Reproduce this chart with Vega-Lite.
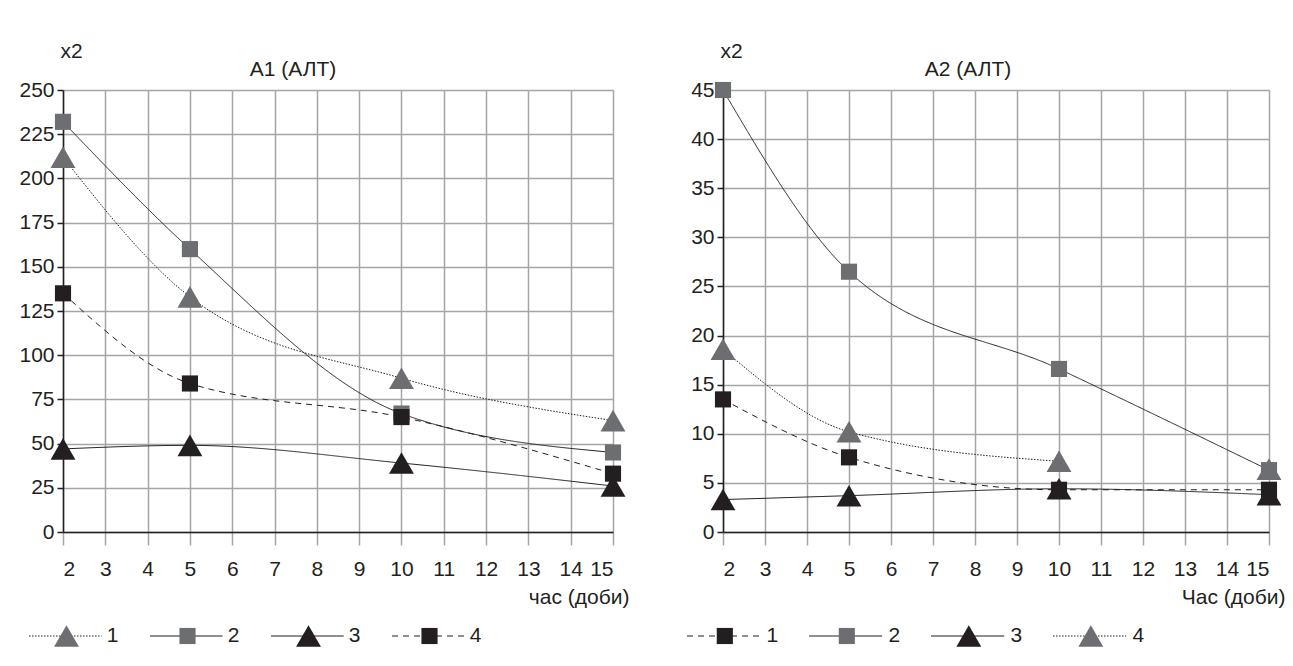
{
  "$schema": "https://vega.github.io/schema/vega-lite/v6.json",
  "padding": {"left": 18, "top": 40, "right": 5, "bottom": 5},
  "background": "white",
  "config": {
    "font": "Liberation Sans, Arial",
    "view": {"stroke": null},
    "axis": {
      "labelFont": "Liberation Sans, Arial",
      "titleFont": "Liberation Sans, Arial",
      "labelFontSize": 21,
      "titleFontSize": 21,
      "titleFontWeight": "normal",
      "labelColor": "#231f20",
      "titleColor": "#231f20",
      "gridColor": "#a3a5a8",
      "gridWidth": 1.5,
      "gridOpacity": 1,
      "domainColor": "#231f20",
      "domainWidth": 1.5,
      "tickColor": "#a3a5a8",
      "tickWidth": 1.5
    },
    "title": {"font": "Liberation Sans, Arial", "fontSize": 21, "fontWeight": "normal", "color": "#231f20"},
    "text": {"font": "Liberation Sans, Arial"}
  },
  "datasets": {
    "a1": [
      {"x": 2, "v": 212, "s": "1"}, {"x": 5, "v": 133, "s": "1"}, {"x": 10, "v": 87, "s": "1"}, {"x": 15, "v": 63, "s": "1"},
      {"x": 2, "v": 232, "s": "2"}, {"x": 5, "v": 160, "s": "2"}, {"x": 10, "v": 67, "s": "2"}, {"x": 15, "v": 45, "s": "2"},
      {"x": 2, "v": 47, "s": "3"}, {"x": 5, "v": 49, "s": "3"}, {"x": 10, "v": 39, "s": "3"}, {"x": 15, "v": 26, "s": "3"},
      {"x": 2, "v": 135, "s": "4"}, {"x": 5, "v": 84, "s": "4"}, {"x": 10, "v": 65, "s": "4"}, {"x": 15, "v": 33, "s": "4"}
    ],
    "a2": [
      {"x": 2, "v": 13.5, "s": "1"}, {"x": 5, "v": 7.6, "s": "1"}, {"x": 10, "v": 4.3, "s": "1"}, {"x": 15, "v": 4.3, "s": "1"},
      {"x": 2, "v": 45, "s": "2"}, {"x": 5, "v": 26.5, "s": "2"}, {"x": 10, "v": 16.6, "s": "2"}, {"x": 15, "v": 6.3, "s": "2"},
      {"x": 2, "v": 3.3, "s": "3"}, {"x": 5, "v": 3.7, "s": "3"}, {"x": 10, "v": 4.4, "s": "3"}, {"x": 15, "v": 3.8, "s": "3"},
      {"x": 2, "v": 18.6, "s": "4"}, {"x": 5, "v": 10.2, "s": "4"}, {"x": 10, "v": 7.2, "s": "4"}, {"x": 15, "v": 6.4, "s": "4"}
    ]
  },
  "hconcat": [
    {
      "vconcat": [
        {
          "width": 550,
          "height": 442,
          "title": {"text": "A1 (АЛТ)", "anchor": "middle", "dx": -45, "offset": -40},
          "data": {"name": "a1"},
          "encoding": {
            "x": {"field": "x", "type": "quantitative", "scale": {"domain": [2, 15], "nice": false, "zero": false},
              "axis": {"values": [2,3,4,5,6,7,8,9,10,11,12,13,14,15], "tickSize": 13, "labelPadding": 13, "title": "час (доби)", "titleAlign": "right", "titleAnchor": "end", "titleX": 566, "titleY": 65, "titleBaseline": "middle"}},
            "y": {"field": "v", "type": "quantitative", "scale": {"domain": [0, 250], "nice": false},
              "axis": {"values": [0,25,50,75,100,125,150,175,200,225,250], "tickSize": 6, "tickColor": "#231f20", "labelPadding": 3, "title": "x2", "titleAngle": 0, "titleAlign": "center", "titleBaseline": "middle", "titleX": 8, "titleY": -39}},
            "color": {"field": "s", "type": "nominal", "scale": {"domain": ["1","2","3","4"], "range": ["#6d6e71","#6d6e71","#231f20","#231f20"]}, "legend": null}
          },
          "layer": [
            {
              "mark": {"type": "line", "interpolate": "monotone", "strokeWidth": 1},
              "encoding": {
                "color": {"value": "#231f20"},
                "detail": {"field": "s"},
                "strokeDash": {"field": "s", "type": "nominal", "scale": {"domain": ["1","2","3","4"], "range": [[1.5,1.5],[1,0],[1,0],[6,5]]}, "legend": null}
              }
            },
            {
              "transform": [{"filter": "datum.s == '2' || datum.s == '4'"}],
              "mark": {"type": "point", "shape": "square", "size": 260, "filled": true, "opacity": 1, "strokeWidth": 0}
            },
            {
              "transform": [{"filter": "datum.s == '1' || datum.s == '3'"}],
              "mark": {"type": "point", "shape": "triangle-up", "size": 620, "filled": true, "opacity": 1, "strokeWidth": 0}
            }
          ]
        },
        {
          "width": 484,
          "height": 30,
          "data": {"name": "a1"},
          "transform": [{"filter": "datum.x == 2"}],
          "encoding": {
            "color": {"field": "s", "type": "nominal", "scale": {"domain": ["1","2","3","4"], "range": ["#6d6e71","#6d6e71","#231f20","#231f20"]}, "legend": null}
          },
          "layer": [
            {
              "mark": {"type": "rule", "strokeWidth": 1},
              "encoding": {
                "x": {"field": "s", "type": "nominal", "bandPosition": 0, "scale": {"domain": ["1","2","3","4"], "range": [-34, 450], "paddingInner": 0, "paddingOuter": 0}, "axis": null},
                "x2": {"field": "s", "bandPosition": 0.6},
                "color": {"value": "#231f20"},
                "strokeDash": {"field": "s", "type": "nominal", "scale": {"domain": ["1","2","3","4"], "range": [[1.5,1.5],[1,0],[1,0],[6,5]]}, "legend": null}
              }
            },
            {
              "transform": [{"filter": "datum.s == '2' || datum.s == '4'"}],
              "mark": {"type": "point", "shape": "square", "size": 260, "filled": true, "opacity": 1, "strokeWidth": 0},
              "encoding": {"x": {"field": "s", "type": "nominal", "bandPosition": 0.31, "axis": null}}
            },
            {
              "transform": [{"filter": "datum.s == '1' || datum.s == '3'"}],
              "mark": {"type": "point", "shape": "triangle-up", "size": 620, "filled": true, "opacity": 1, "strokeWidth": 0},
              "encoding": {"x": {"field": "s", "type": "nominal", "bandPosition": 0.31, "axis": null}}
            },
            {
              "mark": {"type": "text", "align": "center", "baseline": "middle", "fontSize": 21},
              "encoding": {
                "x": {"field": "s", "type": "nominal", "bandPosition": 0.69, "axis": null},
                "text": {"field": "s"},
                "color": {"value": "#231f20"}
              }
            }
          ]
        }
      ],
      "spacing": 14,
      "resolve": {"scale": {"x": "independent", "y": "independent"}}
    },
    {
      "vconcat": [
        {
          "width": 546,
          "height": 442,
          "title": {"text": "A2 (АЛТ)", "anchor": "middle", "dx": -28, "offset": -40},
          "data": {"name": "a2"},
          "encoding": {
            "x": {"field": "x", "type": "quantitative", "scale": {"domain": [2, 15], "nice": false, "zero": false},
              "axis": {"values": [2,3,4,5,6,7,8,9,10,11,12,13,14,15], "tickSize": 13, "labelPadding": 13, "title": "Час (доби)", "titleAlign": "right", "titleAnchor": "end", "titleX": 562, "titleY": 65, "titleBaseline": "middle"}},
            "y": {"field": "v", "type": "quantitative", "scale": {"domain": [0, 45], "nice": false},
              "axis": {"values": [0,5,10,15,20,25,30,35,40,45], "tickSize": 6, "tickColor": "#231f20", "labelPadding": 3, "title": "x2", "titleAngle": 0, "titleAlign": "center", "titleBaseline": "middle", "titleX": 8, "titleY": -39}},
            "color": {"field": "s", "type": "nominal", "scale": {"domain": ["1","2","3","4"], "range": ["#231f20","#6d6e71","#231f20","#6d6e71"]}, "legend": null}
          },
          "layer": [
            {
              "transform": [{"filter": "datum.s != '4' || datum.x <= 10"}],
              "mark": {"type": "line", "interpolate": "monotone", "strokeWidth": 1},
              "encoding": {
                "color": {"value": "#231f20"},
                "detail": {"field": "s"},
                "strokeDash": {"field": "s", "type": "nominal", "scale": {"domain": ["1","2","3","4"], "range": [[6,5],[1,0],[1,0],[1.5,1.5]]}, "legend": null}
              }
            },
            {
              "transform": [{"filter": "datum.s == '1' || datum.s == '2'"}],
              "mark": {"type": "point", "shape": "square", "size": 260, "filled": true, "opacity": 1, "strokeWidth": 0}
            },
            {
              "transform": [{"filter": "datum.s == '3' || datum.s == '4'"}],
              "mark": {"type": "point", "shape": "triangle-up", "size": 620, "filled": true, "opacity": 1, "strokeWidth": 0}
            }
          ]
        },
        {
          "width": 488,
          "height": 30,
          "data": {"name": "a2"},
          "transform": [{"filter": "datum.x == 2"}],
          "encoding": {
            "color": {"field": "s", "type": "nominal", "scale": {"domain": ["1","2","3","4"], "range": ["#231f20","#6d6e71","#231f20","#6d6e71"]}, "legend": null}
          },
          "layer": [
            {
              "mark": {"type": "rule", "strokeWidth": 1},
              "encoding": {
                "x": {"field": "s", "type": "nominal", "bandPosition": 0, "scale": {"domain": ["1","2","3","4"], "range": [-36, 452], "paddingInner": 0, "paddingOuter": 0}, "axis": null},
                "x2": {"field": "s", "bandPosition": 0.6},
                "color": {"value": "#231f20"},
                "strokeDash": {"field": "s", "type": "nominal", "scale": {"domain": ["1","2","3","4"], "range": [[6,5],[1,0],[1,0],[1.5,1.5]]}, "legend": null}
              }
            },
            {
              "transform": [{"filter": "datum.s == '1' || datum.s == '2'"}],
              "mark": {"type": "point", "shape": "square", "size": 260, "filled": true, "opacity": 1, "strokeWidth": 0},
              "encoding": {"x": {"field": "s", "type": "nominal", "bandPosition": 0.31, "axis": null}}
            },
            {
              "transform": [{"filter": "datum.s == '3' || datum.s == '4'"}],
              "mark": {"type": "point", "shape": "triangle-up", "size": 620, "filled": true, "opacity": 1, "strokeWidth": 0},
              "encoding": {"x": {"field": "s", "type": "nominal", "bandPosition": 0.31, "axis": null}}
            },
            {
              "mark": {"type": "text", "align": "center", "baseline": "middle", "fontSize": 21},
              "encoding": {
                "x": {"field": "s", "type": "nominal", "bandPosition": 0.7, "axis": null},
                "text": {"field": "s"},
                "color": {"value": "#231f20"}
              }
            }
          ]
        }
      ],
      "spacing": 14,
      "resolve": {"scale": {"x": "independent", "y": "independent"}}
    }
  ],
  "spacing": 57,
  "resolve": {"scale": {"x": "independent", "y": "independent", "color": "independent", "shape": "independent", "strokeDash": "independent", "size": "independent"}}
}
